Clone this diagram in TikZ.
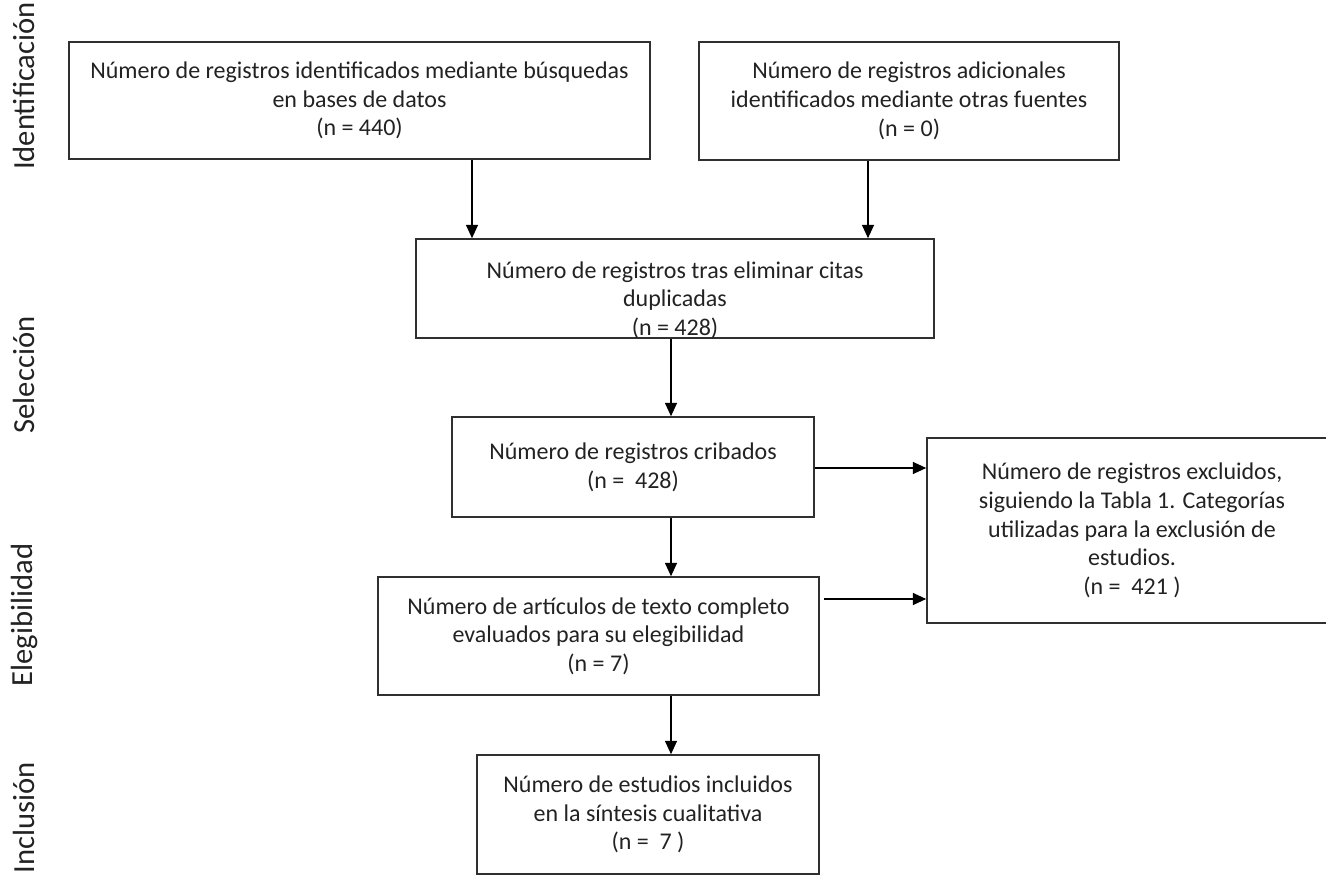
\documentclass[tikz,border=0pt]{standalone}
\usepackage{fontspec}
\setmainfont{Carlito}
\usetikzlibrary{arrows.meta}
\definecolor{ln}{HTML}{303030}
\definecolor{tx}{HTML}{222222}
\tikzset{
  box/.style={draw=ln, line width=1.2pt, rectangle, inner sep=0pt, align=center,
    text=tx, font=\fontsize{18}{21.5}\selectfont},
  txt/.style={inner sep=0pt, align=center, text=tx, font=\fontsize{18}{21.5}\selectfont},
  arr/.style={draw=black, line width=1pt, -{Triangle[length=10pt,width=9pt]}},
  side/.style={rotate=90, inner sep=0pt, text=tx, font=\fontsize{23}{26}\selectfont}
}
\begin{document}
\begin{tikzpicture}[x=0.75pt, y=-0.75pt]
\useasboundingbox (0,0) rectangle (1326,887);
% side labels
\node[side] (l1) at (24,86) {Identificación};
\node[side] (l2) at (24,375) {Selección};
\node[side] (l3) at (24,615) {Elegibilidad};
\node[side] (l4) at (24,818) {Inclusión};
% boxes
\node[box, minimum width=581*0.75pt, minimum height=117*0.75pt] (b1) at (359.5,100.5)
  {Número de registros identificados mediante búsquedas\\en bases de datos\\(n = 440)};
\node[box, minimum width=420*0.75pt, minimum height=118*0.75pt] (b2) at (909,101)
  {Número de registros adicionales\\identificados mediante otras fuentes\\(n = 0)};
\node[box, minimum width=518*0.75pt, minimum height=99*0.75pt] (b3) at (675,288.5) {};
\node[txt] (t3) at (675,300)
  {Número de registros tras eliminar citas\\duplicadas\\(n = 428)};
\node[box, minimum width=362*0.75pt, minimum height=100*0.75pt] (b4) at (633,467)
  {Número de registros cribados\\(n =~~428)};
\node[box, minimum width=410*0.75pt, minimum height=185*0.75pt] (b5) at (1132,530.5)
  {Número de registros excluidos,\\siguiendo la Tabla 1. Categorías\\utilizadas para la exclusión de\\estudios.\\(n =~~421 )};
\node[box, minimum width=441*0.75pt, minimum height=118*0.75pt] (b6) at (598.5,636)
  {Número de artículos de texto completo\\evaluados para su elegibilidad\\(n = 7)};
\node[box, minimum width=342*0.75pt, minimum height=119*0.75pt] (b7) at (648,814.5)
  {Número de estudios incluidos\\en la síntesis cualitativa\\(n =~~7 )};
% connector guides
\coordinate (c1) at (472,0);
\coordinate (c2) at (868,0);
\coordinate (c3) at (671,0);
\coordinate (r1) at (0,468);
\coordinate (r2) at (0,599);
% connectors
\draw[arr] (b1.south -| c1) -- (b3.north -| c1);
\draw[arr] (b2.south -| c2) -- (b3.north -| c2);
\draw[arr] (b3.south -| c3) -- (b4.north -| c3);
\draw[arr] (b4.south -| c3) -- (b6.north -| c3);
\draw[arr] (b6.south -| c3) -- (b7.north -| c3);
\draw[arr] (b4.east |- r1) -- (b5.west |- r1);
\draw[arr] ([xshift=3pt]b6.east |- r2) -- (b5.west |- r2);
\end{tikzpicture}
\end{document}
